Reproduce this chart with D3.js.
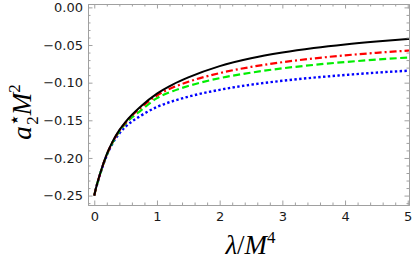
<!DOCTYPE html>
<html>
<head>
<meta charset="utf-8">
<script src="https://cdn.jsdelivr.net/npm/d3@7"></script>
<style>
  body { margin: 0; background: #fff; }
  svg { display: block; }
</style>
</head>
<body>
<div id="chart"></div>
<script>
// lambda / M^4 sample points
var lambdas = [0, 0.02, 0.05, 0.1, 0.2, 0.3, 0.4, 0.5, 0.75, 1, 1.25, 1.5, 2, 2.5, 3, 3.5, 4, 4.5, 5, 5.05];

// a2* M^2 for each curve
var blackVals = [-0.25, -0.2425, -0.233, -0.219, -0.195, -0.177, -0.163, -0.152, -0.131, -0.1145, -0.1025, -0.093, -0.078, -0.0676, -0.060, -0.054, -0.0492, -0.0453, -0.042, -0.0417];
var redVals   = [-0.25, -0.2426, -0.2332, -0.2193, -0.1954, -0.1776, -0.1638, -0.153, -0.1325, -0.117, -0.1065, -0.0988, -0.0873, -0.0791, -0.0728, -0.0678, -0.0637, -0.0603, -0.0574, -0.0571];
var greenVals = [-0.25, -0.2427, -0.2334, -0.2196, -0.1958, -0.1783, -0.1648, -0.1543, -0.1365, -0.1205, -0.1113, -0.1044, -0.094, -0.0867, -0.081, -0.0764, -0.0726, -0.0694, -0.0667, -0.0665];
var blueVals  = [-0.25, -0.2428, -0.2336, -0.2199, -0.1965, -0.1795, -0.1675, -0.1585, -0.1435, -0.1323, -0.1246, -0.1186, -0.1095, -0.1027, -0.0975, -0.0933, -0.0898, -0.0867, -0.0842, -0.084];

var xTicks = [0, 1, 2, 3, 4, 5];
var yTicks = [0, -0.05, -0.10, -0.15, -0.20, -0.25];

var series = [
  {vals: blueVals,  color: "#0000ff", dash: "2.4,2.4", width: 2.4},
  {vals: greenVals, color: "#00ee00", dash: "7,3.5", width: 2.2},
  {vals: redVals,   color: "#ff0000", dash: "7,3,2,3", width: 2.2},
  {vals: blackVals, color: "#000000", dash: null, width: 2}
];

const W = 415, H = 271;
const pLeft = 88, pRight = 409, pTop = 4, pBottom = 205;

var svg = d3.select("#chart").append("svg")
  .attr("width", W)
  .attr("height", H);

var x = d3.scaleLinear().domain([-0.1, 5.02]).range([pLeft, pRight]);
var y = d3.scaleLinear().domain([-0.2625, 0.0045]).range([pBottom, pTop]);

svg.append("clipPath").attr("id", "clip")
  .append("rect")
  .attr("x", pLeft).attr("y", pTop)
  .attr("width", pRight - pLeft).attr("height", pBottom - pTop);

// curves
var line = d3.line()
  .x((d, i) => x(lambdas[i]))
  .y(d => y(d))
  .curve(d3.curveMonotoneX);

svg.append("g").attr("clip-path", "url(#clip)")
  .selectAll("path")
  .data(series)
  .enter()
  .append("path")
  .attr("d", d => line(d.vals))
  .attr("fill", "none")
  .attr("stroke", d => d.color)
  .attr("stroke-width", d => d.width)
  .attr("stroke-dasharray", d => d.dash);

// frame with inward ticks (mathematica style)
var frameColor = "#a0a0a0";
var xMinor = d3.range(0, 51).map(i => i / 10).filter(v => Math.round(v * 10) % 2 == 0 && v % 1 != 0);
var yMinor = d3.range(0, 27).map(i => -i / 100).filter(v => Math.round(v * 100) % 5 != 0);

var axB = d3.axisBottom(x).tickValues(xTicks).tickSizeInner(-4.5).tickSizeOuter(0).tickPadding(7).tickFormat(d3.format("d"));
var axT = d3.axisTop(x).tickValues(xTicks).tickSizeInner(-4.5).tickSizeOuter(0).tickFormat("");
var axL = d3.axisLeft(y).tickValues(yTicks).tickSizeInner(-4.5).tickSizeOuter(0).tickPadding(5)
  .tickFormat(d => d3.format(".2f")(d).replace("-", "\u2212"));
var axR = d3.axisRight(y).tickValues(yTicks).tickSizeInner(-4.5).tickSizeOuter(0).tickFormat("");

svg.append("g").attr("transform", "translate(0," + pBottom + ")").call(axB);
svg.append("g").attr("transform", "translate(0," + pTop + ")").call(axT);
svg.append("g").attr("transform", "translate(" + pLeft + ",0)").call(axL);
svg.append("g").attr("transform", "translate(" + pRight + ",0)").call(axR);

// minor ticks
svg.append("g").attr("transform", "translate(0," + pBottom + ")")
  .call(d3.axisBottom(x).tickValues(xMinor).tickSizeInner(-2.5).tickSizeOuter(0).tickFormat(""));
svg.append("g").attr("transform", "translate(0," + pTop + ")")
  .call(d3.axisTop(x).tickValues(xMinor).tickSizeInner(-2.5).tickSizeOuter(0).tickFormat(""));
svg.append("g").attr("transform", "translate(" + pLeft + ",0)")
  .call(d3.axisLeft(y).tickValues(yMinor).tickSizeInner(-2.5).tickSizeOuter(0).tickFormat(""));
svg.append("g").attr("transform", "translate(" + pRight + ",0)")
  .call(d3.axisRight(y).tickValues(yMinor).tickSizeInner(-2.5).tickSizeOuter(0).tickFormat(""));

svg.selectAll(".domain").attr("stroke", frameColor).attr("stroke-width", 1);
svg.selectAll(".tick line").attr("stroke", frameColor);
svg.selectAll(".tick text")
  .style("font-family", "DejaVu Sans")
  .style("font-size", "13px")
  .attr("fill", "#1a1a1a");

// axis titles
svg.append("text")
  .attr("x", (pLeft + pRight) / 2 + 2)
  .attr("y", 254)
  .attr("text-anchor", "middle")
  .style("font-family", "Liberation Serif")
  .style("font-size", "27px")
  .html('<tspan font-style="italic">\u03bb</tspan>/<tspan font-style="italic">M</tspan><tspan font-size="17" dy="-11">4</tspan>');

svg.append("text")
  .attr("transform", "translate(31,112) rotate(-90)")
  .attr("text-anchor", "middle")
  .style("font-family", "Liberation Serif")
  .style("font-size", "27px")
  .html('<tspan font-style="italic">a</tspan><tspan font-size="20" dy="-10" font-family="DejaVu Sans">\u22c6</tspan><tspan font-size="17" dx="-11" dy="17">2</tspan><tspan font-style="italic" dy="-7" dx="1">M</tspan><tspan font-size="17" dy="-11">2</tspan>');
</script>
</body>
</html>
